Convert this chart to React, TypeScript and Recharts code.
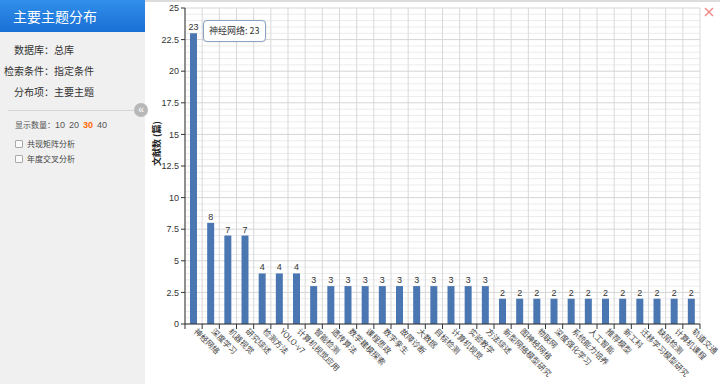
import { BarChart, Bar, XAxis, YAxis, CartesianGrid, Tooltip, LabelList } from 'recharts'

const topics = [
  '神经网络', '深度学习', '机器视觉', '研究综述', '检测方法', 'YOLO-v7', '计算机视觉应用',
  '智能检测', '遗传算法', '数学建模探索', '课程思政', '数字孪生', '故障诊断', '大数据',
  '目标检测', '计算机视觉', '实验教学', '方法综述', '新型网络模型研究', '图神经网络',
  '物联网', '深度强化学习', '系统能力培养', '人工智能', '推荐模型', '新工科',
  '迁移学习模型研究', '缺陷检测', '计算机课程', '轨道交通',
]
const counts = [23, 8, 7, 7, 4, 4, 4, 3, 3, 3, 3, 3, 3, 3, 3, 3, 3, 3, 2, 2, 2, 2, 2, 2, 2, 2, 2, 2, 2, 2]
const yTicks = [0, 2.5, 5, 7.5, 10, 12.5, 15, 17.5, 20, 22.5, 25]
const showCounts = ['10', '20', '30', '40']

const data = topics.map((name, i) => ({ name, count: counts[i] }))

const font = '"Liberation Sans", "Noto Sans CJK SC", sans-serif'
const cjk = '"Noto Sans CJK SC", "Liberation Sans", sans-serif'
const yMax = yTicks[yTicks.length - 1]

function XTick(props: any) {
  const { x, y, payload, index, width } = props
  const half = (width || 515) / topics.length / 2
  return (
    <g>
      <line x1={x - half} x2={x - half} y1={y} y2={y + 5} stroke="#333" />
      {index === topics.length - 1 && <line x1={x + half} x2={x + half} y1={y} y2={y + 5} stroke="#333" />}
      <text
        x={x}
        y={y + 8}
        transform={`rotate(45 ${x} ${y + 8})`}
        textAnchor="start"
        fontSize={8}
        fontFamily={cjk}
        fill="#444"
      >
        {payload.value}
      </text>
    </g>
  )
}

function TipBox({ active, payload }: any) {
  if (!active || !payload || !payload.length) return null
  const p = payload[0]
  return (
    <div style={{
      background: '#fff', border: '1px solid #8aa4c4', borderRadius: 4,
      padding: '4px 5px', fontSize: 9, lineHeight: '12px', fontFamily: cjk, color: '#333', whiteSpace: 'nowrap',
      boxShadow: '0 0 2px rgba(0,0,0,0.15)',
    }}>
      {p.payload.name}: {p.value}
    </div>
  )
}

function Sidebar() {
  const row = { display: 'flex', fontSize: 10, color: '#333', height: 21, alignItems: 'center', whiteSpace: 'nowrap' } as const
  const lab = { width: 54, textAlign: 'right', flex: 'none' } as const
  const box = {
    width: 6, height: 6, border: '1px solid #aaa', background: '#fafafa', marginRight: 4, borderRadius: 1,
  }
  const check = { position: 'absolute', left: 15, display: 'flex', alignItems: 'center', fontSize: 8, color: '#444' } as const
  return (
    <div style={{ position: 'absolute', left: 0, top: 0, width: 145, height: 384, background: '#f0f0f0', fontFamily: cjk }}>
      <div style={{
        height: 32, background: 'linear-gradient(#3090ea, #1a6fd4)', color: '#fff', fontSize: 14,
        lineHeight: '32px', paddingLeft: 13,
      }}>主要主题分布</div>
      <div style={{ paddingTop: 7 }}>
        <div style={row}><span style={lab}>数据库：</span>总库</div>
        <div style={row}><span style={lab}>检索条件：</span>指定条件</div>
        <div style={row}><span style={lab}>分布项：</span>主要主题</div>
      </div>
      <div style={{ position: 'absolute', left: 8, top: 110, width: 130, borderTop: '1px solid #d6d6d6' }} />
      <div style={{ position: 'absolute', left: 15, top: 119, fontSize: 8, lineHeight: '12px', color: '#555', whiteSpace: 'nowrap' }}>
        显示数量：
        {showCounts.map(c => (
          <span key={c} style={{ marginRight: 4, fontSize: 9, fontFamily: font, color: c === '30' ? '#ff6a00' : '#555', fontWeight: c === '30' ? 'bold' : 'normal' }}>{c}</span>
        ))}
      </div>
      <div style={{ ...check, top: 138 }}>
        <span style={box} />共现矩阵分析
      </div>
      <div style={{ ...check, top: 153 }}>
        <span style={box} />年度交叉分析
      </div>
      <div style={{
        position: 'absolute', left: 134, top: 103, width: 14, height: 14, borderRadius: 7, background: '#b8b8b8',
        color: '#fff', fontSize: 11, lineHeight: '13px', textAlign: 'center', fontFamily: font,
      }}>«</div>
    </div>
  )
}

export default function App() {
  const vGen = ({ offset }: any) => topics.map((_, i) => offset.left + (offset.width * i) / topics.length).concat([offset.left + offset.width])
  const minorGen = ({ offset }: any) => {
    const out: number[] = []
    for (let i = 0; i < yTicks.length - 1; i++) {
      const step = (yTicks[i + 1] - yTicks[i]) / 5
      for (let k = 1; k < 5; k++) {
        const v = yTicks[i] + step * k
        out.push(offset.top + offset.height * (1 - v / yMax))
      }
    }
    return out
  }
  return (
    <div style={{ position: 'absolute', left: 0, top: 0, width: 720, height: 384, background: '#fff', overflow: 'hidden' }}>
      <Sidebar />
      <div style={{ position: 'absolute', left: 145, top: 0, width: 575, height: 2, background: '#dcdcdc' }} />
      <svg style={{ position: 'absolute', left: 704, top: 7 }} width={10} height={10}>
        <line x1={1} y1={1} x2={9} y2={9} stroke="#f08a8a" strokeWidth={1.4} />
        <line x1={9} y1={1} x2={1} y2={9} stroke="#f08a8a" strokeWidth={1.4} />
      </svg>
      <div style={{ position: 'absolute', left: 145, top: 0 }}>
        <BarChart width={575} height={384} data={data} margin={{ top: 8, right: 20, bottom: 0, left: 0 }}>
          <CartesianGrid vertical={false} horizontalCoordinatesGenerator={minorGen} stroke="#ececec" />
          <CartesianGrid horizontal={false} verticalCoordinatesGenerator={vGen} stroke="#d9d9d9" />
          <CartesianGrid vertical={false} stroke="#d6d6d6" />
          <XAxis
            dataKey="name"
            interval={0}
            height={60}
            tickLine={false}
            tickSize={0}
            tickMargin={0}
            axisLine={{ stroke: '#333' }}
            tick={<XTick />}
          />
          <YAxis
            domain={[0, yMax]}
            ticks={yTicks}
            width={40}
            tickSize={4}
            tickMargin={2}
            axisLine={{ stroke: '#333' }}
            tickLine={{ stroke: '#333' }}
            tick={{ fontSize: 9, fill: '#333', fontFamily: font }}
            label={{ value: '文献数 (篇)', angle: -90, position: 'insideLeft', offset: 12, fontSize: 9, fontWeight: 'bold', fill: '#222', fontFamily: cjk }}
          />
          <Tooltip
            active
            defaultIndex={0}
            position={{ x: 58, y: 20 }}
            cursor={false}
            isAnimationActive={false}
            content={<TipBox />}
          />
          <Bar dataKey="count" fill="#4a77b2" barSize={7} isAnimationActive={false}>
            <LabelList dataKey="count" position="top" offset={3} fontSize={9} fill="#333" fontFamily={font} />
          </Bar>
        </BarChart>
      </div>
    </div>
  )
}
